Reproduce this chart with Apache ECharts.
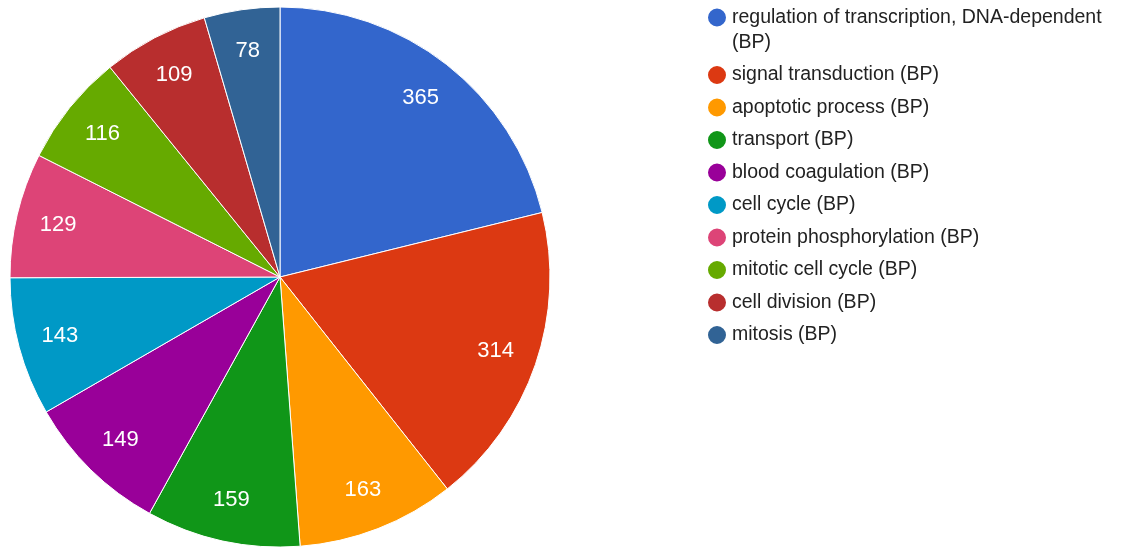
<!DOCTYPE html>
<html>
<head>
<meta charset="utf-8">
<script src="https://cdn.jsdelivr.net/npm/echarts@6/dist/echarts.min.js"></script>
<style>
  html, body { margin: 0; padding: 0; background: #ffffff; }
  #chart { width: 1121px; height: 548px; }
</style>
</head>
<body>
<div id="chart"></div>
<script>
// GO biological process term counts
const categories = [
  'regulation of transcription, DNA-dependent (BP)',
  'signal transduction (BP)',
  'apoptotic process (BP)',
  'transport (BP)',
  'blood coagulation (BP)',
  'cell cycle (BP)',
  'protein phosphorylation (BP)',
  'mitotic cell cycle (BP)',
  'cell division (BP)',
  'mitosis (BP)'
];
const counts = [365, 314, 163, 159, 149, 143, 129, 116, 109, 78];
const palette = ['#3366cc', '#dc3912', '#ff9900', '#109618', '#990099',
                 '#0099c6', '#dd4477', '#66aa00', '#b82e2e', '#316395'];

const pieData = categories.map((name, i) => ({ name, value: counts[i] }));

const center = [280, 277];
const outer = 270;

const chart = echarts.init(document.getElementById('chart'), null, { renderer: 'canvas' });
chart.setOption({
  animation: false,
  color: palette,
  legend: {
    orient: 'vertical',
    left: 701,
    top: -25,
    itemWidth: 20,
    itemHeight: 20,
    itemGap: 7.5,
    icon: 'circle',
    // the long first entry wraps; a leading blank line keeps its icon beside line one
    formatter: name => (name === categories[0] ? '\n' + name : name),
    textStyle: {
      fontFamily: 'Liberation Sans, Arial, sans-serif',
      fontSize: 19.5,
      color: '#222222',
      lineHeight: 25,
      width: 382,
      overflow: 'break'
    },
    data: categories
  },
  series: [
    {
      type: 'pie',
      center: center,
      radius: [0, outer],
      startAngle: 90,
      clockwise: true,
      avoidLabelOverlap: false,
      label: { show: false },
      labelLine: { show: false },
      itemStyle: { borderColor: '#ffffff', borderWidth: 1 },
      emphasis: { disabled: true },
      data: pieData
    },
    {
      // ring used only to place the value labels toward the rim
      type: 'pie',
      silent: true,
      center: center,
      radius: [180, outer],
      startAngle: 90,
      clockwise: true,
      avoidLabelOverlap: false,
      itemStyle: { color: 'rgba(0,0,0,0)', borderWidth: 0 },
      label: {
        show: true,
        position: 'inside',
        formatter: '{c}',
        color: '#ffffff',
        fontFamily: 'Liberation Sans, Arial, sans-serif',
        fontSize: 22
      },
      labelLine: { show: false },
      emphasis: { disabled: true },
      data: pieData
    }
  ]
});
</script>
</body>
</html>
